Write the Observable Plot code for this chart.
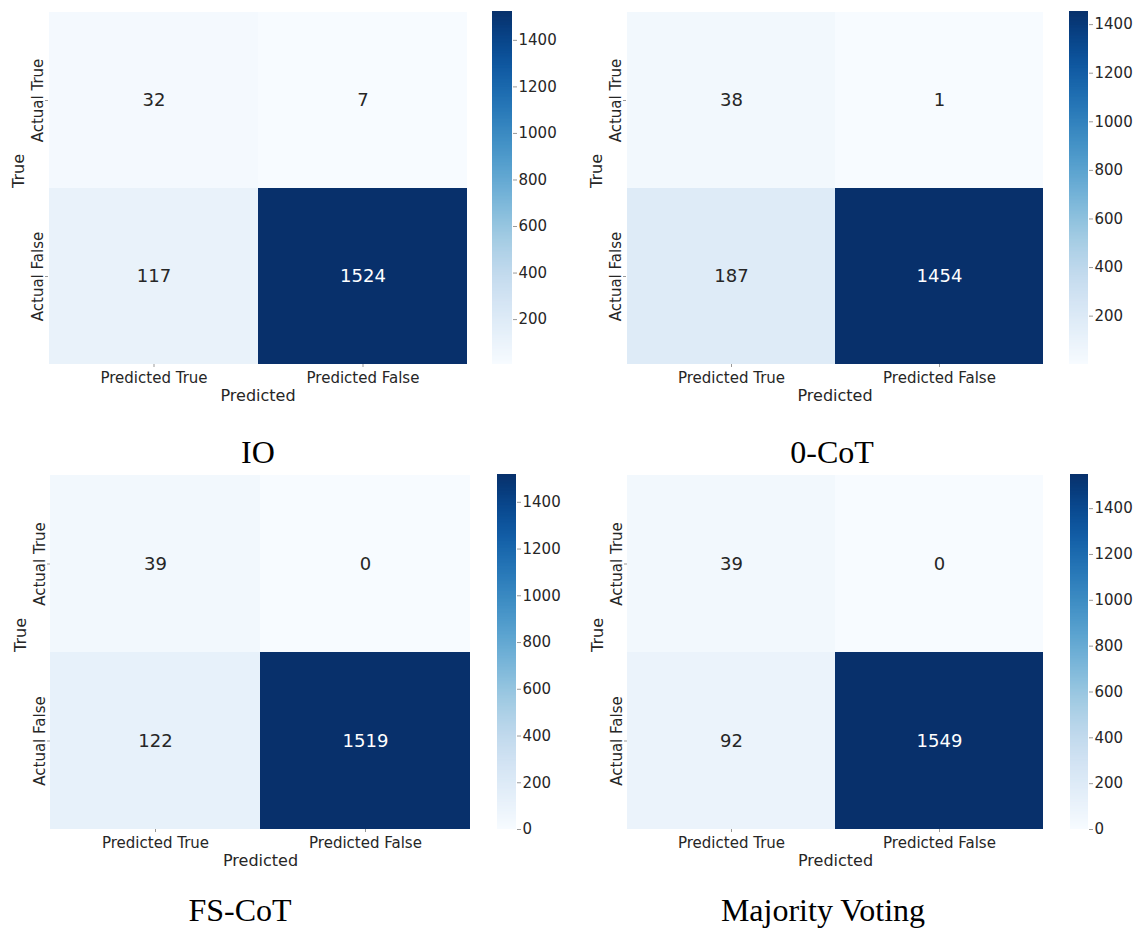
<!DOCTYPE html>
<html>
<head>
<meta charset="utf-8">
<script src="https://cdn.jsdelivr.net/npm/d3@7"></script>
<script src="https://cdn.jsdelivr.net/npm/@observablehq/plot@0.6"></script>
<style>
  html, body { margin: 0; padding: 0; background: #fff; }
  #root { position: relative; width: 1136px; height: 929px; overflow: hidden; }
  .panel { position: absolute; width: 578px; height: 466px; }
  .panel svg { position: absolute; overflow: visible; max-width: none !important; }
  .title { position: absolute; font-family: "Liberation Serif", "Times New Roman", serif; font-size: 32px; color: #000; transform: translate(-50%, -50%); white-space: nowrap; }
</style>
</head>
<body>
<div id="root"></div>
<script>
// ---- data ----
const predictedLabels = ["Predicted True", "Predicted False"];
const actualLabels = ["Actual True", "Actual False"];
const methods = ["IO", "0-CoT", "FS-CoT", "Majority Voting"];
// rows: Actual True, Actual False; columns: Predicted True, Predicted False
const ioValues = [[32, 7], [117, 1524]];
const zeroCotValues = [[38, 1], [187, 1454]];
const fsCotValues = [[39, 0], [122, 1519]];
const majorityValues = [[39, 0], [92, 1549]];
const allValues = [ioValues, zeroCotValues, fsCotValues, majorityValues];

// ---- layout (page pixels) ----
const layout = [
  {left: 0,   top: 0,   fx0: 48,  fx1: 467,  fy0: 11,  fy1: 364, cb0: 492,  cb1: 512,  tx: 258, ty: 452},
  {left: 578, top: 0,   fx0: 626, fx1: 1043, fy0: 11,  fy1: 364, cb0: 1069, cb1: 1088, tx: 832, ty: 452},
  {left: 0,   top: 463, fx0: 50,  fx1: 470,  fy0: 474, fy1: 829, cb0: 497,  cb1: 516,  tx: 240, ty: 910},
  {left: 578, top: 463, fx0: 627, fx1: 1043, fy0: 474, fy1: 829, cb0: 1070, cb1: 1088, tx: 823, ty: 910}
];

const root = document.getElementById("root");
const textColor = "#262626";
const font = "DejaVu Sans";

methods.forEach((name, i) => {
  const L = layout[i];
  const vals = allValues[i];
  const cells = [];
  actualLabels.forEach((a, r) => predictedLabels.forEach((p, c) => cells.push({actual: a, predicted: p, value: vals[r][c]})));
  const vmin = d3.min(cells, d => d.value), vmax = d3.max(cells, d => d.value);
  const color = {type: "linear", scheme: "blues", domain: [vmin, vmax]};

  // heatmap
  const W = 490, H = 430;
  const ml = L.fx0 - L.left, mt = L.fy0 - L.top;
  const mr = W - (L.fx1 - L.left), mb = H - (L.fy1 - L.top);
  const heat = Plot.plot({
    width: W, height: H,
    marginLeft: ml, marginRight: mr, marginTop: mt, marginBottom: mb,
    style: {fontFamily: font, fontSize: "15px", color: textColor, background: "transparent"},
    x: {domain: predictedLabels, padding: 0, label: null},
    y: {domain: actualLabels, padding: 0, label: null},
    color,
    marks: [
      Plot.cell(cells, {x: "predicted", y: "actual", fill: "value"}),
      Plot.text(cells, {x: "predicted", y: "actual", text: d => String(d.value), fontSize: 18,
        fill: d => (d.value - vmin) / (vmax - vmin) > 0.6 ? "#ffffff" : textColor}),
      Plot.axisX({tickSize: 3, tickPadding: 5, fontSize: 15, label: null, stroke: "#999"}),
      Plot.axisY({tickSize: 3, tickPadding: 3, tickRotate: -90, fontSize: 15, label: null, stroke: "#999"}),
      Plot.text(["Predicted"], {frameAnchor: "bottom", dy: 36, fontSize: 16, fill: textColor}),
      Plot.text(["True"], {frameAnchor: "left", dx: -30, rotate: -90, fontSize: 16, fill: textColor})
    ]
  });
  const div = document.createElement("div");
  div.className = "panel";
  div.style.left = L.left + "px";
  div.style.top = L.top + "px";
  heat.style.left = "0px"; heat.style.top = "0px";
  div.appendChild(heat);

  // colorbar
  const CW = 80;
  const steps = 256;
  const slices = d3.range(steps).map(k => {
    const a = vmin + (vmax - vmin) * k / steps;
    const b = vmin + (vmax - vmin) * (k + 1.6) / steps;
    return {y1: a, y2: Math.min(b, vmax), v: vmin + (vmax - vmin) * (k + 0.5) / steps};
  });
  const cb = Plot.plot({
    width: CW, height: H,
    marginLeft: 0, marginRight: CW - (L.cb1 - L.cb0), marginTop: mt, marginBottom: mb,
    style: {fontFamily: font, fontSize: "15px", color: textColor, background: "transparent"},
    x: {domain: [0, 1], axis: null},
    y: {domain: [vmin, vmax], label: null},
    color,
    marks: [
      Plot.rect(slices, {x1: 0, x2: 1, y1: "y1", y2: "y2", fill: "v"}),
      Plot.axisY({anchor: "right", ticks: 8, tickFormat: "d", tickSize: 4, tickPadding: 2, fontSize: 15, label: null, stroke: "#999"})
    ]
  });
  cb.style.left = (L.cb0 - L.left) + "px"; cb.style.top = "0px";
  div.appendChild(cb);
  root.appendChild(div);

  const t = document.createElement("div");
  t.className = "title";
  t.textContent = name;
  t.style.left = L.tx + "px";
  t.style.top = L.ty + "px";
  root.appendChild(t);
});
</script>
</body>
</html>
